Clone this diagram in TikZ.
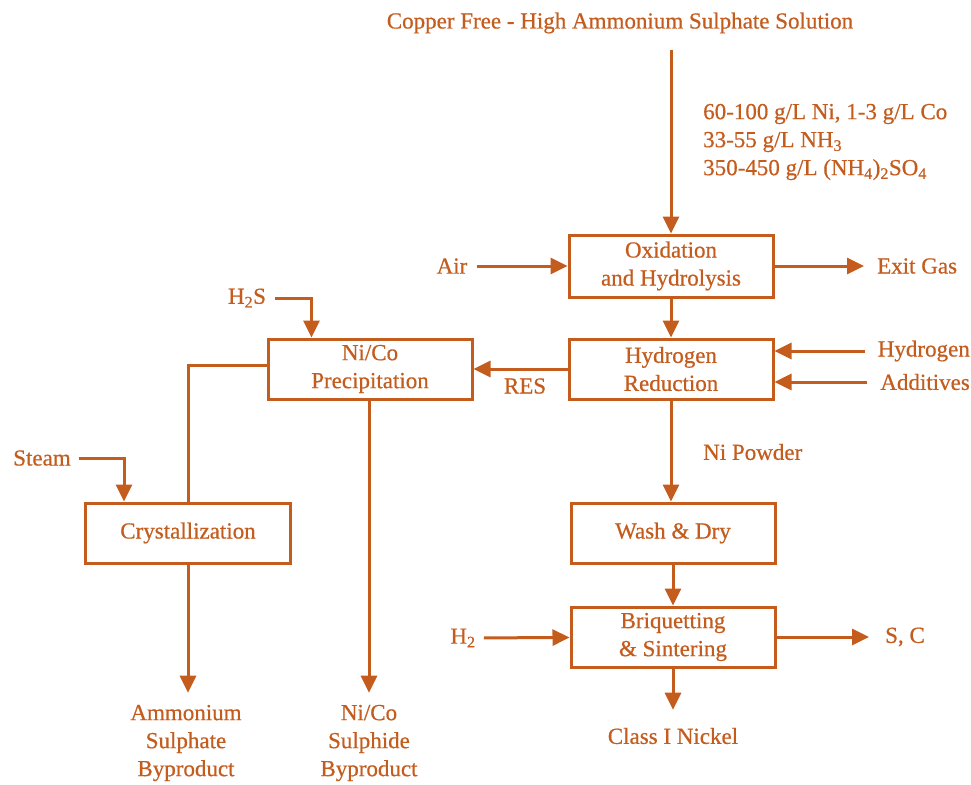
\documentclass[tikz,border=0pt]{standalone}
\usepackage{fontspec}
\setmainfont{Liberation Serif}[FakeBold=0.6]
\usetikzlibrary{arrows.meta,calc}
\definecolor{ocol}{RGB}{196,92,30}
\begin{document}
\begin{tikzpicture}[x=1pt,y=-1pt,
  txt/.style={inner sep=0pt, text=ocol, align=center, font=\fontsize{23}{28}\selectfont},
  box/.style={draw=ocol, line width=3pt, minimum width=204pt, minimum height=60pt,
              inner sep=0pt, text=ocol, align=center, font=\fontsize{23}{28}\selectfont},
  flow/.style={draw=ocol, line width=3pt},
  arr/.style={flow, -{Triangle[length=17pt,width=16pt]}}]
\useasboundingbox (0,0) rectangle (971,784);

% title and feed composition
\node[txt] (title) at (620,23) {Copper Free - High Ammonium Sulphate Solution};
\node[txt, anchor=west, align=left] (conc) at (703,142)
  {60-100 g/L Ni, 1-3 g/L Co\\33-55 g/L NH\textsubscript{3}\\350-450 g/L (NH\textsubscript{4})\textsubscript{2}SO\textsubscript{4}};
\coordinate (feed) at (671,50);

% process boxes
\node[box, minimum height=62pt] (ox) at (671,266) {Oxidation\\and Hydrolysis};
\node[box] (hr) at (671,369) {Hydrogen\\Reduction};
\node[box] (prec) at (370,369) {Ni/Co\\Precipitation};
\node[box, minimum width=205pt] (cryst) at (188,533) {Crystallization};
\node[box] (wash) at (673,533) {Wash \& Dry};
\node[box] (briq) at (673,637) {Briquetting\\\& Sintering};

% stream labels
\node[txt] (air) at (452,266) {Air};
\node[txt, anchor=west] (exit) at (877,266) {Exit Gas};
\node[txt, anchor=east] (hyd) at (970,351) {Hydrogen};
\node[txt, anchor=east] (add) at (970,382) {Additives};
\node[txt] (res) at (525,386) {RES};
\node[txt] (h2s) at (247,298) {H\textsubscript{2}S};
\node[txt] (steam) at (42,458) {Steam};
\node[txt, anchor=west] (nip) at (703,452) {Ni Powder};
\node[txt] (h2) at (463,638) {H\textsubscript{2}};
\node[txt, anchor=west] (sc) at (885,637) {S, C};
\node[txt] (amm) at (186,743) {Ammonium\\Sulphate\\Byproduct};
\node[txt] (nis) at (369,743) {Ni/Co\\Sulphide\\Byproduct};
\node[txt] (nickel) at (673,736) {Class I Nickel};

% connectors
\draw[arr] (feed) -- (ox.north);
\draw[arr, shorten <=9pt] (air) -- (ox);
\draw[arr, shorten >=13pt] (ox) -- (exit.west);
\draw[arr] (ox) -- (hr);
\draw[arr, shorten <=13pt] (hyd.west) -- (hyd.west -| hr.east);
\draw[arr, shorten <=13pt] (add.west) -- (add.west -| hr.east);
\draw[arr] (hr.west) -- (prec.east);
\draw[arr, shorten <=9pt] (h2s.east) -| ($(prec.north west)+(45,0)$);
\draw[flow] ($(prec.west)+(0,-4)$) -| (cryst.north);
\draw[arr, shorten <=8pt] (steam.east) -| ($(cryst.north west)+(40,0)$);
\draw[arr, shorten >=12pt] (cryst.south) -- (cryst.south |- amm.north);
\draw[arr, shorten >=12pt] (prec.south -| nis.north) -- (nis.north);
\draw[arr] (hr.south) -- (hr.south |- wash.north);
\draw[arr] (wash) -- (briq);
\draw[arr, shorten <=8pt] (h2) -- (briq);
\draw[arr, shorten >=16pt] (briq.east) -- (sc.west);
\draw[arr, shorten >=18pt] (briq.south) -- (nickel.north);
\end{tikzpicture}
\end{document}
